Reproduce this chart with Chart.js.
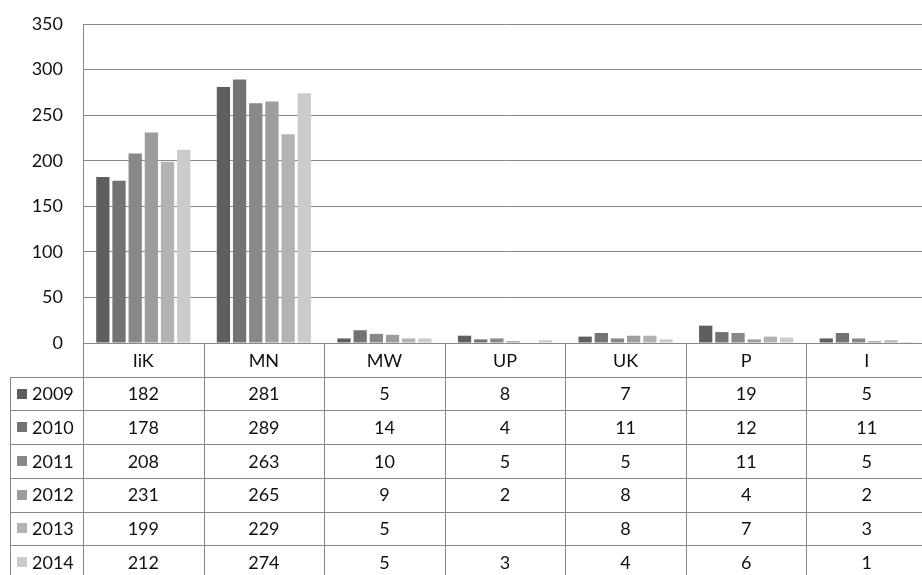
<!DOCTYPE html>
<html>
<head>
<meta charset="utf-8">
<script src="https://cdn.jsdelivr.net/npm/chart.js@4/dist/chart.umd.min.js"></script>
<style>
  html, body { margin: 0; padding: 0; background: #fff; overflow: hidden; }
  #wrap { position: relative; width: 928px; height: 575px; }
</style>
</head>
<body>
<div id="wrap"><canvas id="c"></canvas></div>
<script>
// Categories and yearly series
const categories = ['IiK', 'MN', 'MW', 'UP', 'UK', 'P', 'I'];
const years = ['2009', '2010', '2011', '2012', '2013', '2014'];
const v2009 = [182, 281, 5, 8, 7, 19, 5];
const v2010 = [178, 289, 14, 4, 11, 12, 11];
const v2011 = [208, 263, 10, 5, 5, 11, 5];
const v2012 = [231, 265, 9, 2, 8, 4, 2];
const v2013 = [199, 229, 5, null, 8, 7, 3];
const v2014 = [212, 274, 5, 3, 4, 6, 1];
const yTicks = [0, 50, 100, 150, 200, 250, 300, 350];

const seriesValues = [v2009, v2010, v2011, v2012, v2013, v2014];
const seriesColors = ['#5e5e5e', '#737373', '#888888', '#9d9d9d', '#b3b3b3', '#cbcbcb'];

const FONT = '"Lato", "Open Sans", sans-serif';
const TEXT = '#111111';
const LINE = '#888888';

// Data table under the plot: header row with categories, one row per year
const dataTable = {
  id: 'dataTable',
  afterDraw(chart) {
    const ctx = chart.ctx;
    const a = chart.chartArea;
    const n = categories.length;
    const colW = (a.right - a.left) / n;
    const rowH = 33.7;
    const top = a.bottom;
    const leftCol = 10;
    const bottom = chart.height + 5;

    ctx.save();
    ctx.strokeStyle = LINE;
    ctx.lineWidth = 1;
    ctx.beginPath();
    // horizontal rules
    ctx.moveTo(a.left, Math.round(top) + 0.5);
    ctx.lineTo(chart.width, Math.round(top) + 0.5);
    for (let r = 1; r <= years.length + 1; r++) {
      const y = Math.round(top + r * rowH) + 0.5;
      ctx.moveTo(leftCol, y);
      ctx.lineTo(chart.width, y);
    }
    // vertical rules
    ctx.moveTo(Math.round(a.left) + 0.5, a.top);
    ctx.lineTo(Math.round(a.left) + 0.5, bottom);
    for (let c = 1; c <= n; c++) {
      const x = Math.round(a.left + c * colW) + 0.5;
      ctx.moveTo(x, top);
      ctx.lineTo(x, bottom);
    }
    ctx.moveTo(leftCol + 0.5, Math.round(top + rowH));
    ctx.lineTo(leftCol + 0.5, bottom);
    ctx.stroke();

    ctx.fillStyle = TEXT;
    ctx.font = '18px ' + FONT;
    ctx.textAlign = 'center';
    ctx.textBaseline = 'middle';
    for (let c = 0; c < n; c++) {
      const cx = a.left + (c + 0.5) * colW;
      ctx.fillText(categories[c], cx, top + rowH / 2 + 1);
      for (let r = 0; r < years.length; r++) {
        const v = seriesValues[r][c];
        if (v !== null && v !== undefined) {
          ctx.fillText(String(v), cx, top + (r + 1.5) * rowH + 1);
        }
      }
    }
    // legend keys with year labels
    ctx.textAlign = 'left';
    for (let r = 0; r < years.length; r++) {
      const cy = top + (r + 1.5) * rowH;
      ctx.fillStyle = seriesColors[r];
      ctx.fillRect(17, Math.round(cy - 5), 10, 10);
      ctx.fillStyle = TEXT;
      ctx.fillText(years[r], 32, cy + 1);
    }
    ctx.restore();
  }
};

new Chart(document.getElementById('c'), {
  type: 'bar',
  data: {
    labels: categories,
    datasets: years.map((yr, i) => ({
      label: yr,
      data: seriesValues[i],
      backgroundColor: seriesColors[i],
      borderWidth: 0,
      categoryPercentage: 0.805,
      barPercentage: 0.82
    }))
  },
  options: {
    responsive: true,
    maintainAspectRatio: false,
    animation: false,
    layout: { padding: { top: 24, bottom: 232, left: 0, right: 1 } },
    plugins: { legend: { display: false }, tooltip: { enabled: false } },
    scales: {
      x: { display: false },
      y: {
        min: 0,
        max: 350,
        afterBuildTicks(scale) { scale.ticks = yTicks.map(v => ({ value: v })); },
        afterFit(scale) {
          scale.width = 83;
          scale.paddingTop = 11;
          scale.paddingBottom = 11;
        },
        ticks: { color: TEXT, font: { family: FONT, size: 18 }, padding: 20 },
        grid: { color: LINE, lineWidth: 1, drawTicks: false },
        border: { display: true, color: LINE, width: 1 }
      }
    }
  },
  plugins: [dataTable]
});
</script>
</body>
</html>
